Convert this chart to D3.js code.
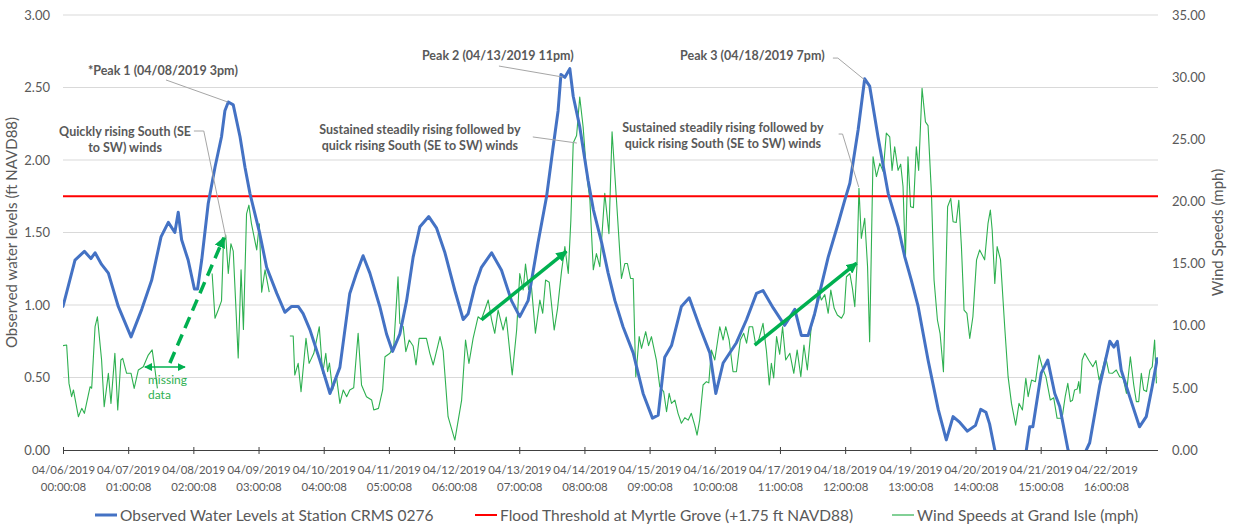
<!DOCTYPE html>
<html>
<head>
<meta charset="utf-8">
<script src="https://cdn.jsdelivr.net/npm/d3@7"></script>
<style>
  body { margin: 0; background: #fff; }
  text { font-family: Lato, "Open Sans", sans-serif; }
</style>
</head>
<body>
<svg id="chart" width="1234" height="527"></svg>
<script>
// ---- Data -------------------------------------------------------------
// Hours are counted from 04/06/2019 00:00:08; one category tick every 25 h.
const dateLabels = ["04/06/2019","04/07/2019","04/08/2019","04/09/2019","04/10/2019","04/11/2019",
  "04/12/2019","04/13/2019","04/14/2019","04/15/2019","04/16/2019","04/17/2019","04/18/2019",
  "04/19/2019","04/20/2019","04/21/2019","04/22/2019"];
const timeLabels = ["00:00:08","01:00:08","02:00:08","03:00:08","04:00:08","05:00:08","06:00:08",
  "07:00:08","08:00:08","09:00:08","10:00:08","11:00:08","12:00:08","13:00:08","14:00:08",
  "15:00:08","16:00:08"];
const tickHours = [0,25,50,75,100,125,150,175,200,225,250,275,300,325,350,375,400];
const levelTicks = [0,0.5,1,1.5,2,2.5,3];
const windTicks = [0,5,10,15,20,25,30,35];
const floodThreshold = 1.75;

// Observed water levels at CRMS 0276 (ft NAVD88)
const waterHours = [0,4.6,8.2,10.7,12.3,14.8,17.4,21.2,26.1,30.2,34,37.6,40.4,42.9,44.2,45.5,48,50.4,51.6,
  53.2,55.7,58.3,60.8,62.1,63.4,65.3,67.9,69.8,71.7,75.5,78.1,82,85.1,87.7,90.2,92.1,94.7,98.5,102.4,
  106.2,110,112.6,115.1,117.7,121.5,124.1,126.4,129.2,131.8,134.3,136.9,140.3,143.3,146.5,150.3,153.5,
  155.4,158,160.5,164.4,168.2,172,175.2,178.4,182.2,185.5,188,189.9,191,192.5,194.4,195.7,198.2,201.4,
  203.4,206.6,209.1,211.7,214.8,218.7,222.5,226.1,228.3,230.8,233.4,237.2,240.2,244.2,248.1,250.4,253.2,
  258.3,262.2,266,268.5,272.4,276.8,280.7,283.2,285.8,288.3,293.5,297.3,299.8,301.8,305,307.5,309.4,
  312.6,316.5,320.3,322.9,325.4,328,331.8,335.7,338.8,341.4,344,346.9,350,352,354,355.4,357.4,362,369.5,
  370.8,372,375.2,377.7,380.4,382.3,385.5,389,392.5,393.8,397.6,401.5,403.1,404.4,405.9,409.1,412.9,
  415.5,417.8,419.7];
const waterLevels = [0.99,1.31,1.37,1.32,1.36,1.28,1.22,0.99,0.78,0.97,1.17,1.47,1.57,1.50,1.64,1.45,1.31,1.11,1.11,
  1.31,1.70,1.95,2.16,2.34,2.40,2.38,2.16,1.95,1.77,1.49,1.26,1.08,0.95,0.99,0.99,0.94,0.83,0.62,0.39,
  0.57,1.08,1.22,1.34,1.22,0.99,0.80,0.68,0.80,1.03,1.33,1.54,1.61,1.53,1.36,1.10,0.90,
  0.94,1.13,1.26,1.36,1.24,1.03,0.92,1.03,1.43,1.75,2.09,2.34,2.59,2.57,2.63,2.44,2.23,1.86,
  1.66,1.43,1.22,1.03,0.85,0.67,0.39,0.22,0.24,0.64,0.72,0.99,1.05,0.85,0.67,0.39,0.60,
  0.74,0.90,1.08,1.10,0.98,0.86,0.97,0.79,0.79,0.94,1.33,1.56,1.72,1.84,2.21,2.56,2.51,
  2.16,1.77,1.54,1.33,1.17,0.99,0.62,0.28,0.07,0.23,0.19,0.13,0.17,0.28,0.26,0.18,0.00,-0.30,0.00,
  0.16,0.16,0.53,0.62,0.39,0.30,0.00,-0.20,0.00,0.05,0.44,0.75,0.71,0.75,0.55,0.37,0.16,
  0.23,0.44,0.63];

// Wind speeds at Grand Isle (mph); null marks missing records
const windHours = [0,1.4,2.3,3.3,4,5.9,7.2,8.2,10.4,11,12.3,13.2,14.8,15.8,17.4,18.4,19.9,21,22.2,22.9,24.4,
  26.1,27.3,28.9,30.8,32.7,34.2,35.3,36.2,46,
  57.2,58.3,59.6,60.8,61.5,62.4,63.4,64.4,65.3,66.2,67.2,68.3,69.2,70.4,71.3,72.3,74.3,75.3,76.2,77.5,79.1,83,
  87,88.3,88.9,90.2,91.3,93.2,94.4,96.2,98.3,99.6,100.8,101.5,102.2,103.4,104.9,106.2,107.5,108.8,110,111.5,
  113.2,114.5,116.4,118.4,119.2,121,122.6,123.5,125.4,126.9,128.5,129.2,130.5,131.5,132.8,134.3,135.4,136.6,
  139.4,140.7,142,144.6,145.8,147.7,150.3,152.9,154.4,155.7,157.3,159.2,160.5,163.1,164.4,165.6,166.9,168.8,
  170,172.3,174,175.2,176.5,177.4,178.6,179.7,181.2,182.9,184,185.1,186.5,188.4,189.7,191.2,192.5,193.8,
  194.8,195.7,197,198.2,199.5,200.8,202.1,203.4,204.6,205.9,207.8,209.4,210.6,212.3,214.2,215.5,216.5,217.7,
  218.7,219.7,221,221.9,223.5,224.6,225.7,227.6,228.9,230.4,231.5,232.5,233.4,234.7,235.9,237.2,238.5,239.8,
  241,242.3,243.2,244.2,245.5,246.8,247.7,248.7,250,251.9,253.2,254.2,255.5,257,258.3,259.8,261.1,262.2,
  263.2,264.5,265.7,266.9,268.5,269.8,270.9,271.7,272.6,273.7,274.9,276,277.2,278.8,280.3,281.6,283,284.2,
  285.5,287,288.6,289.6,290.9,292.2,293.5,294.5,295.8,297,298.6,299.6,300.5,301.8,302.8,303.7,304.5,305.3,
  306.2,307.5,308.6,309.4,310.7,312,313.3,314.6,315.8,317.1,318,319,320.3,321.3,322.2,323.1,324.1,325.1,
  326.2,327.3,328.2,329.5,330.8,331.8,333.1,334.1,335.4,336.4,337.7,339.3,340.5,341.4,342.6,343.6,344.6,
  345.6,346.7,347.8,349,350.4,351.6,353.5,354.8,355.7,356.4,357.4,358.3,359.6,361.2,362.5,363.8,365.4,
  366.7,368,369.3,370.2,371.5,373,374.4,375.7,377,378.7,380,381.3,383.2,384.4,385.4,386.4,387.2,388,389,
  389.6,390.1,390.9,391.9,393.5,395,396.2,397.4,398.6,399.9,401.2,402.5,404,405.3,406.6,407.9,409.4,410.7,
  411.7,412.6,413.6,414.5,415.6,416.9,417.8,418.7,419.4];
const windSpeeds = [8.4,8.45,5.36,4.29,4.83,2.68,3.35,2.95,5.09,4.97,9.92,10.72,7.24,3.48,6.17,3.75,7.78,3.22,7.24,7.37,6.17,
  6.17,4.96,6.44,6.7,7.64,8.05,6.44,4.96,null,
  14.2,10.6,11.3,12.0,16.4,17.3,14.2,16.6,16.0,12.0,7.4,14.5,9.7,19.0,19.7,18.2,16.1,18.2,12.7,14.5,12.7,null,
  9.17,9.17,6.03,6.97,4.69,8.98,6.97,7.78,9.92,6.17,7.78,6.3,7.0,4.83,5.9,3.75,4.83,4.29,4.83,5.0,
  9.39,5.23,4.29,4.02,3.22,3.35,4.83,7.5,7.78,8.45,13.94,10.19,9.92,7.91,8.85,8.37,6.84,8.98,
  8.98,7.78,6.84,9.12,8.0,2.68,0.80,4.02,8.85,6.97,8.98,10.72,10.5,12.07,10.46,9.39,11.26,9.65,
  10.7,6.03,9.65,14.2,12.87,14.96,12.9,13.1,9.39,12.07,11.0,13.68,13.5,9.65,11.4,14.35,16.36,14.2,
  18.5,24.7,25.3,28.4,26.0,22.3,20.1,14.5,15.8,14.75,20.65,17.4,25.6,20.1,13.8,15.0,15.0,13.8,
  13.8,5.9,9.12,8.18,9.52,8.4,9.12,7.24,5.09,4.69,3.08,4.56,3.75,4.02,2.95,2.15,2.6,2.4,
  2.95,2.0,1.2,2.41,5.23,5.5,5.4,8.05,7.24,9.92,8.85,9.92,8.85,6.3,6.3,8.85,9.39,8.6,
  9.92,9.92,8.45,8.9,10.19,8.0,5.23,6.97,5.8,9.12,7.7,9.92,7.24,7.78,6.17,8.05,5.9,8.45,
  6.44,9.92,11.0,12.87,12.07,12.5,11.0,12.87,11.4,10.86,10.6,11.0,13.94,14.2,13.0,11.53,14.75,21.05,
  17.03,18.64,14.75,8.71,23.6,22.0,23.06,22.4,25.5,25.2,22.5,24.4,22.5,23.0,21.2,15.3,23.6,19.57,
  19.5,24.4,22.5,29.1,26.4,26.1,20.65,13.68,10.46,9.39,6.3,19.57,20.25,18.37,18.3,20.1,16.36,
  11.26,11.0,8.98,10.72,15.3,16.1,15.3,18.24,19.3,17.7,13.4,16.36,15.3,9.92,5.9,3.75,2.0,
  3.75,3.22,5.77,4.29,5.63,5.5,7.64,6.6,5.9,4.02,4.2,2.55,2.55,4.29,5.36,3.89,4.0,4.83,4.9,
  5.5,4.56,7.24,7.78,7.2,6.7,7.2,5.63,6.4,7.5,6.2,6.17,6.44,5.9,5.8,4.56,7.5,5.23,
  3.89,3.89,6.17,4.83,4.7,6.44,6.7,8.85,5.36];

// Callouts: text anchored at [hour, level], leader polyline in [hour, level]
const callouts = [
  { lines: ["*Peak 1 (04/08/2019 3pm)"], at: [38.3, 2.586], leader: [[39.5, 2.552], [63.2, 2.40]] },
  { lines: ["Quickly rising South (SE", "to SW) winds"], at: [23.8, 2.166], leader: [[50.2, 2.20], [54.0, 2.20], [62.5, 1.462]] },
  { lines: ["Peak 2 (04/13/2019 11pm)"], at: [166.8, 2.69], leader: [[167.2, 2.648], [191.7, 2.572]] },
  { lines: ["Sustained steadily rising followed by", "quick rising South (SE to SW) winds"], at: [136.9, 2.179], leader: [[180.2, 2.159], [197.1, 2.117]] },
  { lines: ["Sustained steadily rising followed by", "quick rising South (SE to SW) winds"], at: [253.1, 2.193], leader: [[297.5, 2.179], [299.0, 2.179], [305.2, 1.814]] },
  { lines: ["Peak 3 (04/18/2019 7pm)"], at: [264.4, 2.69], leader: [[295.3, 2.703], [297.2, 2.703], [307.5, 2.552]] }
];
// Trend arrows in [hour, level]
const trendArrows = [
  { from: [41.0, 0.60], to: [61.7, 1.464], dashed: true },
  { from: [160.5, 0.897], to: [193.1, 1.37], dashed: false },
  { from: [265.3, 0.724], to: [304.4, 1.289], dashed: false }
];
const gapArrow = { from: [31.4, 0.572], to: [46.8, 0.572] };
const gapNote = { lines: ["missing", "data"], at: [32.6, 0.455] };

const legendItems = [
  { label: "Observed Water Levels at Station CRMS 0276", color: "#4472C4", width: 3 },
  { label: "Flood Threshold at Myrtle Grove (+1.75 ft NAVD88)", color: "#FF0000", width: 2 },
  { label: "Wind Speeds at Grand Isle (mph)", color: "#2EB050", width: 1.2 }
];

// ---- Layout -----------------------------------------------------------
const svg = d3.select("#chart");
const plot = { left: 63, right: 1158, top: 15, bottom: 450 };
const textColor = "#595959";
const arrowGreen = "#00B050";

const x = d3.scaleLinear().domain([0, 420]).range([plot.left, plot.right]);
const yL = d3.scaleLinear().domain([0, 3]).range([plot.bottom, plot.top]);
const yR = d3.scaleLinear().domain([0, 35]).range([plot.bottom, plot.top]);

svg.append("defs").append("clipPath").attr("id", "plotClip")
  .append("rect").attr("x", plot.left).attr("y", plot.top - 2)
  .attr("width", plot.right - plot.left).attr("height", plot.bottom - plot.top + 2);

// gridlines
svg.append("g").selectAll("line").data(levelTicks.filter(d => d > 0)).join("line")
  .attr("x1", plot.left).attr("x2", plot.right)
  .attr("y1", d => yL(d)).attr("y2", d => yL(d))
  .attr("stroke", "#D9D9D9").attr("stroke-width", 1);

// left axis
const gL = svg.append("g").attr("transform", `translate(${plot.left},0)`)
  .call(d3.axisLeft(yL).tickValues(levelTicks).tickFormat(d3.format(".2f")).tickSize(0).tickPadding(13));
gL.select(".domain").remove();
gL.selectAll("text").attr("fill", textColor).style("font-size", "13px").style("font-family", "Lato, sans-serif");

// right axis
const gR = svg.append("g").attr("transform", `translate(${plot.right},0)`)
  .call(d3.axisRight(yR).tickValues(windTicks).tickFormat(d3.format(".2f")).tickSize(0).tickPadding(14));
gR.select(".domain").remove();
gR.selectAll("text").attr("fill", textColor).style("font-size", "13px").style("font-family", "Lato, sans-serif");

// bottom axis
const gB = svg.append("g").attr("transform", `translate(0,${plot.bottom})`)
  .call(d3.axisBottom(x).tickValues(tickHours).tickSize(3).tickFormat(""));
gB.select(".domain").attr("d", `M${plot.left},0.5H${plot.right}`).attr("stroke", "#404040");
gB.selectAll(".tick line").attr("y1", -3).attr("y2", 4).attr("stroke", "#404040");
const tickText = gB.selectAll(".tick").append("text")
  .attr("text-anchor", "middle").attr("fill", textColor).style("font-size", "11.4px");
tickText.append("tspan").attr("x", 0).attr("y", 24).text((d, i) => dateLabels[i]);
tickText.append("tspan").attr("x", 0).attr("y", 40.5).text((d, i) => timeLabels[i]);

// axis titles
svg.append("text").attr("transform", `translate(17,${(plot.top + plot.bottom) / 2}) rotate(-90)`)
  .attr("text-anchor", "middle").attr("fill", textColor).style("font-size", "15px")
  .text("Observed water levels (ft NAVD88)");
svg.append("text").attr("transform", `translate(1223,${(plot.top + plot.bottom) / 2}) rotate(-90)`)
  .attr("text-anchor", "middle").attr("fill", textColor).style("font-size", "15px")
  .text("Wind Speeds (mph)");

// series
const lines = svg.append("g").attr("clip-path", "url(#plotClip)");
const windData = windHours.map((h, i) => ({ h, w: windSpeeds[i] }));
lines.append("path").datum(windData)
  .attr("fill", "none").attr("stroke", "#2EB050").attr("stroke-width", 1.1).attr("stroke-linejoin", "round")
  .attr("d", d3.line().defined(d => d.w !== null).x(d => x(d.h)).y(d => yR(d.w)));

lines.append("line")
  .attr("x1", plot.left).attr("x2", plot.right)
  .attr("y1", yL(floodThreshold)).attr("y2", yL(floodThreshold))
  .attr("stroke", "#FF0000").attr("stroke-width", 2);

const waterData = waterHours.map((h, i) => ({ h, v: waterLevels[i] }));
lines.append("path").datum(waterData)
  .attr("fill", "none").attr("stroke", "#4472C4").attr("stroke-width", 3)
  .attr("stroke-linejoin", "round").attr("stroke-linecap", "round")
  .attr("d", d3.line().x(d => x(d.h)).y(d => yL(d.v)));

// arrow heads
const defs = svg.select("defs");
defs.append("marker").attr("id", "headBig").attr("markerUnits", "userSpaceOnUse")
  .attr("viewBox", "0 0 10 10").attr("refX", 9).attr("refY", 5)
  .attr("markerWidth", 11).attr("markerHeight", 11).attr("orient", "auto")
  .append("path").attr("d", "M0,0L10,5L0,10z").attr("fill", arrowGreen);
defs.append("marker").attr("id", "headSmall").attr("markerUnits", "userSpaceOnUse")
  .attr("viewBox", "0 0 10 10").attr("refX", 9).attr("refY", 5)
  .attr("markerWidth", 8).attr("markerHeight", 8).attr("orient", "auto-start-reverse")
  .append("path").attr("d", "M0,0L10,5L0,10z").attr("fill", arrowGreen);

const notes = svg.append("g");
trendArrows.forEach(a => {
  notes.append("line")
    .attr("x1", x(a.from[0])).attr("y1", yL(a.from[1]))
    .attr("x2", x(a.to[0])).attr("y2", yL(a.to[1]))
    .attr("stroke", arrowGreen).attr("stroke-width", 3.5)
    .attr("stroke-dasharray", a.dashed ? "12,7" : null)
    .attr("marker-end", "url(#headBig)");
});
notes.append("line")
  .attr("x1", x(gapArrow.from[0])).attr("y1", yL(gapArrow.from[1]))
  .attr("x2", x(gapArrow.to[0])).attr("y2", yL(gapArrow.to[1]))
  .attr("stroke", arrowGreen).attr("stroke-width", 1.5)
  .attr("marker-start", "url(#headSmall)").attr("marker-end", "url(#headSmall)");
const gapText = notes.append("text").attr("fill", "#2EB050").style("font-size", "12px");
gapNote.lines.forEach((t, i) => {
  gapText.append("tspan").attr("x", x(gapNote.at[0])).attr("y", yL(gapNote.at[1]) + i * 15).text(t);
});

// callouts
callouts.forEach(c => {
  notes.append("path")
    .attr("d", d3.line().x(p => x(p[0])).y(p => yL(p[1]))(c.leader))
    .attr("fill", "none").attr("stroke", "#A6A6A6").attr("stroke-width", 1);
  const t = notes.append("text").attr("text-anchor", "middle").attr("fill", textColor)
    .style("font-size", "12.5px").style("font-weight", "bold");
  c.lines.forEach((line, i) => {
    t.append("tspan").attr("x", x(c.at[0])).attr("y", yL(c.at[1]) + i * 16).text(line);
  });
});

// legend
const legendX = [95, 475, 892];
const legend = svg.append("g");
legendItems.forEach((it, i) => {
  const g = legend.append("g").attr("transform", `translate(${legendX[i]},515)`);
  g.append("line").attr("x1", 0).attr("x2", 22).attr("y1", 0).attr("y2", 0)
    .attr("stroke", it.color).attr("stroke-width", it.width);
  g.append("text").attr("x", 25).attr("y", 5.5).attr("fill", textColor)
    .style("font-size", "15.5px").text(it.label);
});
</script>
</body>
</html>
